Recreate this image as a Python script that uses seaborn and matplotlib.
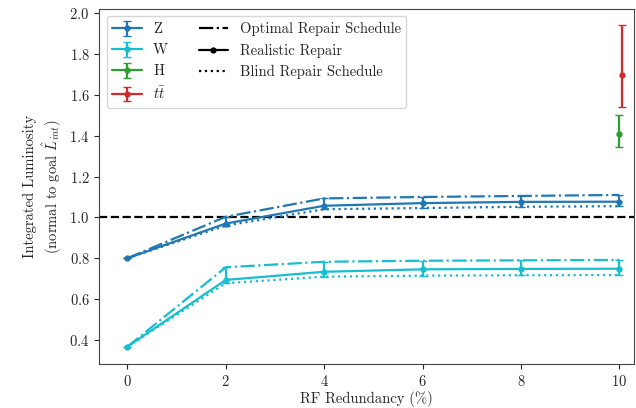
import numpy as np
import pandas as pd
import seaborn as sns
import matplotlib.pyplot as plt
from matplotlib.lines import Line2D

# Values
redundancy = [0, 2, 4, 6, 8, 10]

z_realistic = [0.80, 0.970, 1.057, 1.070, 1.076, 1.077]
z_optimal = [0.80, 1.003, 1.093, 1.100, 1.105, 1.110]
z_blind = [0.80, 0.960, 1.040, 1.046, 1.052, 1.055]

w_realistic = [0.367, 0.694, 0.734, 0.746, 0.748, 0.749]
w_optimal = [0.367, 0.756, 0.783, 0.788, 0.790, 0.792]
w_blind = [0.367, 0.678, 0.710, 0.715, 0.717, 0.718]

h_x = [10.0]
h_val = [1.408]
h_lo = [1.346]
h_hi = [1.500]

tt_x = [10.05]
tt_val = [1.695]
tt_lo = [1.540]
tt_hi = [1.943]

sns.set_style("ticks")
plt.rcParams['font.family'] = 'serif'
plt.rcParams['font.serif'] = ['cmr10', 'DejaVu Serif']
plt.rcParams['mathtext.fontset'] = 'cm'
plt.rcParams['axes.formatter.use_mathtext'] = True
plt.rcParams['axes.unicode_minus'] = False

fs = 10.5
fig, ax = plt.subplots(figsize=(6.36, 4.08), dpi=100)

ax.axhline(1.0, color='black', ls='--', lw=1.6, zorder=1)

series = [
    ('Z', 'tab:blue', z_realistic, z_optimal, z_blind),
    ('W', 'tab:cyan', w_realistic, w_optimal, w_blind),
]

handles = []
for name, color, real, opt, blind in series:
    df = pd.DataFrame({'x': redundancy, 'real': real, 'opt': opt, 'blind': blind})
    sns.lineplot(data=df, x='x', y='opt', color=color, ls='-.', lw=1.6, ax=ax)
    sns.lineplot(data=df, x='x', y='blind', color=color, ls=':', lw=1.6, ax=ax)
    err = [np.array(real) - np.array(blind), np.array(opt) - np.array(real)]
    h = ax.errorbar(redundancy, real, yerr=err, color=color, marker='o', ms=3.5,
                    lw=1.6, capsize=3, label=name)
    handles.append(h)

for name, color, xs, val, lo, hi in [('H', 'tab:green', h_x, h_val, h_lo, h_hi),
                                     (r'$t\bar{t}$', 'tab:red', tt_x, tt_val, tt_lo, tt_hi)]:
    err = [np.array(val) - np.array(lo), np.array(hi) - np.array(val)]
    h = ax.errorbar(xs, val, yerr=err, color=color, marker='o', ms=3.5, lw=1.6,
                    capsize=3, label=name)
    handles.append(h)

style_handles = [
    Line2D([], [], color='black', ls='-.', lw=1.6),
    Line2D([], [], color='black', ls='-', marker='o', ms=3.5, lw=1.6),
    Line2D([], [], color='black', ls=':', lw=1.6),
    Line2D([], [], color='none'),
]
style_labels = ['Optimal Repair Schedule', 'Realistic Repair', 'Blind Repair Schedule', '']

ax.legend(handles + style_handles,
          ['Z', 'W', 'H', r'$t\bar{t}$'] + style_labels,
          ncol=2, loc='upper left', fontsize=fs, columnspacing=2.1)

ax.set_xlim(-0.57, 10.3)
ax.set_ylim(0.283, 2.02)
ax.set_xticks([0, 2, 4, 6, 8, 10])
ax.set_yticks([0.4, 0.6, 0.8, 1.0, 1.2, 1.4, 1.6, 1.8, 2.0])
ax.set_xlabel('RF Redundancy (%)', fontsize=fs, labelpad=2)
ax.set_ylabel('Integrated Luminosity\n' + r'(normal to goal $\hat{L}_{int}$)', fontsize=fs)
ax.tick_params(labelsize=fs)
for s in ax.spines.values():
    s.set_color('#444444')

fig.subplots_adjust(left=0.156, right=0.997, top=0.978, bottom=0.108)
fig.savefig('out.png', dpi=100)
